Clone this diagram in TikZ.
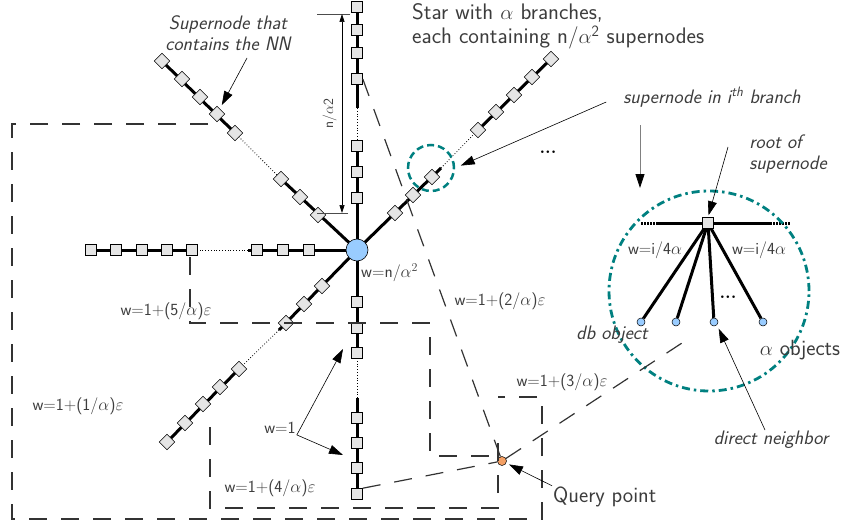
\documentclass[tikz,border=0pt]{standalone}
\usepackage{fontspec}
\usetikzlibrary{arrows.meta,backgrounds}
\definecolor{ringteal}{RGB}{0,128,128}
\definecolor{hubblue}{RGB}{153,204,255}
\definecolor{qorange}{RGB}{244,160,100}
\definecolor{txtgray}{RGB}{60,60,60}
\tikzset{sq/.style={draw,fill=gray!20,minimum size=11pt,inner sep=0pt,line width=.6pt},
 dsq/.style={sq,rotate=45},
 hub/.style={circle,draw,fill=hubblue,minimum size=22pt,inner sep=0pt,line width=.6pt},
 obj/.style={circle,draw,fill=hubblue,minimum size=8pt,inner sep=0pt,line width=.5pt},
 arm/.style={line width=3pt},gap/.style={dotted,line width=.8pt},
 region/.style={dash pattern=on 18pt off 14pt,line width=1.2pt,draw=black!80},
 lbl/.style={text=txtgray,font=\sffamily\fontsize{17}{19}\selectfont,inner sep=1pt},
 big/.style={text=txtgray,font=\sffamily\fontsize{22}{23}\selectfont,inner sep=1pt,align=left},
 head/.style={text=txtgray,font=\sffamily\fontsize{22.5}{23}\selectfont,inner sep=0pt,anchor=base west},
 note/.style={text=txtgray,font=\sffamily\itshape\fontsize{19.5}{21.5}\selectfont,inner sep=1pt,align=left},
 ptr/.style={-{Triangle[length=14pt,width=9pt]},line width=.6pt},
 dim/.style={{Triangle[length=8pt,width=5pt]}-{Triangle[length=8pt,width=5pt]},line width=.6pt}}

\begin{document}
\begin{tikzpicture}[x=1pt,y=-1pt]
\useasboundingbox (0,0) rectangle (846,527);
% star centre and its branches
\node[hub](hub) at (357,250){};
\foreach \y [count=\i] in {7,30,53,79,146,172,198} \node[sq](u\i) at (357,\y){};
\foreach \y [count=\i] in {302,328,353,418,443,468,494} \node[sq](d\i) at (357,\y){};
\foreach \x [count=\i] in {309,283,257,192,167,142,116,91} \node[sq](l\i) at (\x,250){};
\foreach \p [count=\i] in {{318,215},{300,197},{281,179},{235,133},{217,114},{200,97},{182,79},{162,61}} \node[dsq](nw\i) at (\p){};
\foreach \p [count=\i] in {{395,213},{413,195},{432,177},{478,130},{496,112},{514,95},{532,77},{551,59}} \node[dsq](ne\i) at (\p){};
\foreach \p [count=\i] in {{322,286},{304,304},{286,323},{239,369},{220,387},{203,404},{185,423},{167,442}} \node[dsq](sw\i) at (\p){};
\coordinate(ua) at (357,108);\coordinate(ub) at (357,140);
\coordinate(da) at (357,358);\coordinate(db) at (357,398);
\coordinate(la) at (248,250);\coordinate(nea) at (441,168);\coordinate(swa) at (279,330);
\begin{scope}[on background layer]
\draw[arm](u1.center)--(ua);\draw[gap](ua)--(ub);\draw[arm](ub)--(hub.center);
\draw[arm](hub.center)--(da);\draw[gap](da)--(db);\draw[arm](db)--(d7.center);
\draw[arm](hub.center)--(la);\draw[gap](la)--(l4);\draw[arm](l4.center)--(l8.center);
\draw[arm](hub.center)--(nw3.center);\draw[gap](nw3)--(nw4);\draw[arm](nw4.center)--(nw8.center);
\draw[arm](hub.center)--(nea);\draw[gap](nea)--(ne4);\draw[arm](ne4.center)--(ne8.center);
\draw[arm](hub.center)--(swa);\draw[gap](swa)--(sw4);\draw[arm](sw4.center)--(sw8.center);
\end{scope}
\node[font=\bfseries\fontsize{18}{18}\selectfont](dots1) at (548,152){...};
% branch length
\coordinate(tt) at (350,14);\coordinate(tb) at (348,213);
\draw[line width=.6pt,black!70](tt)--++(-33,0);\draw[line width=.6pt,black!70](tb)--++(-31,0);
\draw[dim](342,14)--node[lbl,font=\sffamily\fontsize{14}{16}\selectfont,rotate=90,above=4pt]{n/$\alpha$2}(342,213);
% partition of the plane
\node[circle,draw=black,fill=qorange,minimum size=9pt,inner sep=0pt,line width=.5pt](q) at (502,461){};
\draw[region](208,124)--(12,124)--(12,519)--(542,519)--(542,397)--(498,397);
\draw[region](190,257)--(190,323)--(430,323)--(430,456)--(498,456);
\draw[region](210,427)--(210,508)--(498,508)--(498,437);
\draw[region](u4.east)--(q);\draw[region](d7.north east)--(q);
% zoom on one supernode
\node[circle,draw=ringteal,line width=2.5pt,dash pattern=on 7pt off 4pt,minimum size=46pt](pick) at (431,168){};
\node[circle,draw=ringteal,line width=2.8pt,dash pattern=on 8pt off 4pt on 2.5pt off 4pt,minimum size=200pt](zoomc) at (709,291){};
\node[sq](root) at (708,223){};
\foreach \x [count=\i] in {641,676,714,763} \node[obj](o\i) at (\x,322){};
\coordinate(ra) at (641,223);\coordinate(rb) at (658,223);\coordinate(rc) at (770,223);\coordinate(rd) at (790,223);
\begin{scope}[on background layer]
\draw[arm,dash pattern=on 1.5pt off 1.5pt](ra)--(rb);\draw[arm](rb)--(rc);\draw[arm,dash pattern=on 1.5pt off 1.5pt](rc)--(rd);
\foreach \i in {1,...,4} \draw[arm](root.center)--(o\i);
\end{scope}
\draw[region,shorten >=22pt](q)--(o3);
\node[font=\bfseries\fontsize{18}{18}\selectfont](dots2) at (728,297){...};
% labels
\node[head](title1) at (412,20){Star with $\alpha$ branches,};
\node[head](title2) at (412,44){each containing n/$\alpha$\textsuperscript{2} supernodes};
\node[note,align=center](nnlbl) at (228,33){Supernode that\\contains the NN};
\draw[ptr,shorten >=4pt](247,58)--(nw5);
\node[note](inlbl) at (712,97){supernode in i\textsuperscript{th} branch};
\draw[ptr,shorten >=6pt]([xshift=-16pt,yshift=-5pt]inlbl.west)--(pick.east);
\draw[line width=.8pt,gray,-{Triangle[length=14pt,width=9pt,color=black]}](640,125)--(640,188);
\node[note](rootlbl) at (788,154){root of\\supernode};
\draw[ptr,shorten >=2pt](728,147)--(root.north);
\node[lbl](wl) at (655,250){w=i/4$\alpha$};
\node[lbl](wr) at (759,250){w=i/4$\alpha$};
\node[note](dblbl) at (612,335){db object};
\node[big](alpha) at (800,350){$\alpha$ objects};
\node[note](dn) at (771,440){direct neighbor};
\draw[ptr,shorten >=4pt]([xshift=-6pt]dn.north)--(o3.south east);
\node[big,anchor=west](qlbl) at (552,497){Query point};
\draw[ptr,shorten >=3pt](qlbl.north west)--(q);
\node[lbl,anchor=west](whub) at (360,273){w=n/$\alpha^2$};
\node[lbl](w2) at (500,301){w=1+(2/$\alpha$)$\varepsilon$};
\node[lbl](w3) at (562,382){w=1+(3/$\alpha$)$\varepsilon$};
\node[lbl](w5) at (166,311){w=1+(5/$\alpha$)$\varepsilon$};
\node[lbl](w1e) at (78,406){w=1+(1/$\alpha$)$\varepsilon$};
\node[lbl](w4) at (270,488){w=1+(4/$\alpha$)$\varepsilon$};
\node[lbl](w1) at (280,428){w=1};
\draw[ptr](w1.south east)--(343,349);\draw[ptr](w1.south east)--(343,455);
\end{tikzpicture}
\end{document}
